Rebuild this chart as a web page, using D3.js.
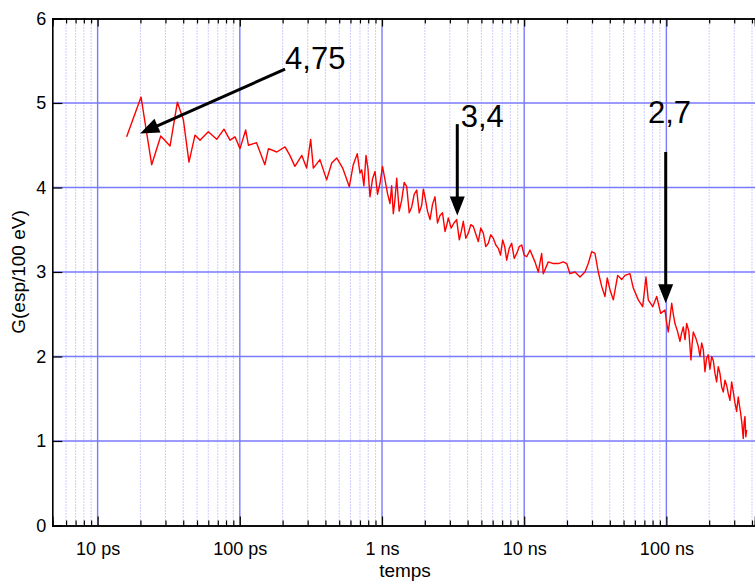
<!DOCTYPE html>
<html><head><meta charset="utf-8">
<script src="https://cdn.jsdelivr.net/npm/d3@7"></script>
<style>
body{margin:0;background:#fff}
svg{display:block}
text{font-family:"Liberation Sans",Arial,Helvetica,sans-serif;fill:#000}
</style>
</head><body>
<svg id="chart" width="755" height="582"></svg>
<script>
// ---- data (time in picoseconds, G in molecules/100 eV) in four stretches ----
const timesA = [16.0,20.2,24.0,27.8,32.3,36.4,40.1,43.9,48.4,52.5,60.0,68.8,77.4,85.3,92.5,100.3,110,115,131,150,159,182,208,225,244,273,295,315,329,366,408,443,480,529,589,628,670,700];
const gA     = [4.60,5.07,4.27,4.61,4.49,5.01,4.80,4.30,4.62,4.56,4.66,4.57,4.69,4.56,4.60,4.46,4.68,4.50,4.53,4.27,4.46,4.42,4.48,4.38,4.25,4.38,4.23,4.57,4.23,4.33,4.09,4.29,4.35,4.23,4.01,4.27,4.40,4.17];

const timesB = [720,746,772,797,823,857,893,930,968,1008,1050,1093,1138,1169,1201,1234,1269,1321,1376,1433,1492,1554,1618,1685,1754,1827,1902,1953,2006,2089,2176,2266,2359,2456,2558,2664,2774,2849,2926,3064,3209,3350,3497,3612,3730,3884,4045,4212,4385,4566,4755,4952,5157,5370,5592,5823,6063,6314,6575,6814,7062,7294,7534,7845,8169,8506,8857,9222,9603,9998,10410];
const gB     = [4.21,4.02,4.38,4.22,3.89,4.10,4.19,3.92,4.05,4.25,4.09,3.93,3.81,4.02,3.69,3.86,4.11,3.72,3.85,4.06,4.01,3.70,3.77,3.92,3.97,3.70,3.79,3.98,3.89,3.72,3.62,3.80,3.89,3.58,3.67,3.70,3.48,3.55,3.64,3.52,3.58,3.62,3.38,3.48,3.60,3.40,3.46,3.56,3.54,3.45,3.36,3.52,3.46,3.30,3.34,3.44,3.40,3.32,3.28,3.20,3.38,3.30,3.14,3.28,3.34,3.16,3.22,3.30,3.32,3.20,3.18];

const timesC = [10990,11910,12570,13270,13620,14770,16020,17370,18830,19900,20990,22760,24690,26760,28230,29830,31470,33190,35080,37000,38390,40120,42320,45450,48490,51150,55460,58510,63440,68120,71870,74600,80120,85500,91190,97750];
const gC     = [3.26,3.12,3.00,3.22,2.98,3.12,3.10,3.10,3.12,3.10,2.98,3.00,2.94,3.00,3.10,3.24,3.22,3.00,2.83,2.71,2.93,2.79,2.67,2.96,2.91,2.96,2.98,2.81,2.67,2.59,2.94,2.67,2.59,2.71,2.51,2.55];

const timesD = [100400,103100,106000,109000,111900,114900,119600,124600,128000,131500,135200,138900,143800,148900,151700,154600,161000,167600,172300,177100,181900,186800,191800,197000,202500,208200,213900,219700,225600,231700,238100,244800,251400,258200,265200,272400,280000,287800,295600,303600,311800,320300,326600,333000,340100,347300,352100,357000,362000,367000];
const gD     = [2.40,2.29,2.45,2.63,2.50,2.39,2.30,2.18,2.28,2.35,2.20,2.39,2.30,1.96,2.15,2.29,2.22,2.12,2.00,2.16,2.08,1.82,1.98,2.02,1.85,2.00,1.95,1.80,1.70,1.88,1.80,1.64,1.58,1.72,1.66,1.56,1.48,1.70,1.58,1.45,1.35,1.52,1.42,1.33,1.20,1.03,1.22,1.29,1.05,1.13];

const xTickValues = [10, 100, 1000, 10000, 100000];
const xTickLabels = ["10 ps", "100 ps", "1 ns", "10 ns", "100 ns"];
const yTickValues = [0, 1, 2, 3, 4, 5, 6];
const xTitle = "temps";
const yTitle = "G(esp/100 eV)";

// annotations (label, text anchor, arrow tail, arrow tip) in data units
const annLabels = ["4,75", "3,4", "2,7"];
const annTextT = [208, 3576, 74240];
const annTextG = [5.40, 4.72, 4.76];
const annTailT = [208, 3384, 98900];
const annTailG = [5.40, 4.75, 4.42];
const annTipT  = [19.9, 3384, 98900];
const annTipG  = [4.64, 3.67, 2.63];

(function () {
const timesPs = timesA.concat(timesB, timesC, timesD);
const gValues = gA.concat(gB, gC, gD);

// ---- scales ----
const svg = d3.select("#chart");
const x = d3.scaleLog().domain([4.8, 420000]).range([52.3, 755]);
const y = d3.scaleLinear().domain([0, 6]).range([525.5, 18.5]);
const [x0, x1] = x.range();
const [yb, yt] = y.range();

// minor positions (2..9 of each decade)
const minor = [];
[1, 10, 100, 1e3, 1e4, 1e5].forEach(d => { for (let m = 2; m <= 9; m++) { const v = d * m; if (v > 5.5 && v < 420000) minor.push(v); } });

// ---- grid ----
const grid = svg.append("g");
grid.selectAll("line.mn").data(minor).enter().append("line")
  .attr("x1", d => x(d)).attr("x2", d => x(d)).attr("y1", yt).attr("y2", yb)
  .attr("stroke", "#9c9cff").attr("stroke-width", 1).attr("stroke-dasharray", "1,2");
grid.selectAll("line.mj").data(xTickValues).enter().append("line")
  .attr("x1", d => x(d)).attr("x2", d => x(d)).attr("y1", yt).attr("y2", yb)
  .attr("stroke", "#7a7aff").attr("stroke-width", 1.4);
grid.selectAll("line.hz").data(yTickValues.filter(v => v > 0 && v < 6)).enter().append("line")
  .attr("x1", x0).attr("x2", x1).attr("y1", d => y(d)).attr("y2", d => y(d))
  .attr("stroke", "#7a7aff").attr("stroke-width", 1.4);

// ---- data line ----
const pts = timesPs.map((t, i) => ({t, g: gValues[i]}));
svg.append("path").datum(pts)
  .attr("fill", "none").attr("stroke", "#ff0000").attr("stroke-width", 1.4).attr("stroke-linejoin", "round")
  .attr("d", d3.line().x(d => x(d.t)).y(d => y(d.g)));

// ---- axes ----
const gBottom = svg.append("g").attr("transform", `translate(0,${yb})`)
  .call(d3.axisBottom(x).tickValues(xTickValues).tickFormat((d, i) => xTickLabels[i]).tickSize(-9).tickPadding(17));
const gBottomMinor = svg.append("g").attr("transform", `translate(0,${yb})`)
  .call(d3.axisBottom(x).tickValues(minor).tickFormat("").tickSize(-5));
const gTop = svg.append("g").attr("transform", `translate(0,${yt})`)
  .call(d3.axisTop(x).tickValues(xTickValues).tickFormat("").tickSize(-8));
const gTopMinor = svg.append("g").attr("transform", `translate(0,${yt})`)
  .call(d3.axisTop(x).tickValues(minor).tickFormat("").tickSize(-5));
const gLeft = svg.append("g").attr("transform", `translate(${x0},0)`)
  .call(d3.axisLeft(y).tickValues(yTickValues).tickFormat(d3.format("d")).tickSize(-10).tickPadding(6));
[gBottom, gBottomMinor, gTop, gTopMinor, gLeft].forEach(g => {
  g.select(".domain").attr("stroke", "#000").attr("stroke-width", 1.6);
  g.selectAll(".tick line").attr("stroke", "#000").attr("stroke-width", 1.2);
  g.selectAll(".tick text").attr("font-size", 18).attr("font-family", "Liberation Sans, Arial, sans-serif").attr("fill", "#000");
});

// titles
svg.append("text").attr("x", 405).attr("y", 577).attr("text-anchor", "middle").attr("font-size", 19).text(xTitle);
svg.append("text").attr("transform", "translate(25,272) rotate(-90)").attr("text-anchor", "middle").attr("font-size", 19).text(yTitle);

// ---- annotations ----
const ann = svg.append("g");
annLabels.forEach((lab, i) => {
  const tx = x(annTailT[i]), ty = y(annTailG[i]);
  const px = x(annTipT[i]), py = y(annTipG[i]);
  const dx = px - tx, dy = py - ty, len = Math.hypot(dx, dy);
  const ux = dx / len, uy = dy / len;
  const hl = 19, hw = 7.5;
  const bx = px - ux * hl, by = py - uy * hl;
  ann.append("line").attr("x1", tx).attr("y1", ty).attr("x2", bx + ux * 2).attr("y2", by + uy * 2)
    .attr("stroke", "#000").attr("stroke-width", 3);
  ann.append("polygon")
    .attr("points", [[px, py], [bx - uy * hw, by + ux * hw], [bx + uy * hw, by - ux * hw]].map(p => p.join(",")).join(" "))
    .attr("fill", "#000");
  ann.append("text").attr("x", x(annTextT[i])).attr("y", y(annTextG[i]))
    .attr("font-size", 31).text(lab);
});
})();
</script>
</body></html>
